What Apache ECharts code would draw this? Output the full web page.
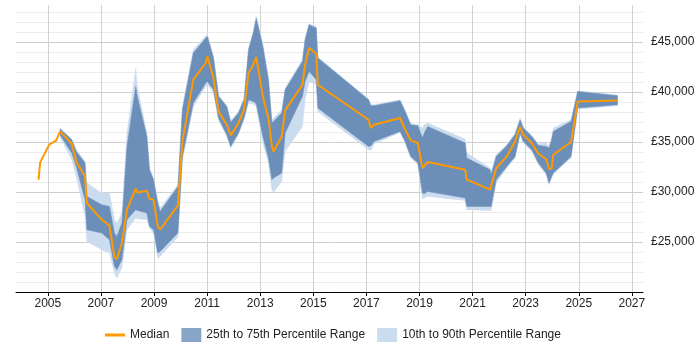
<!DOCTYPE html>
<html>
<head>
<meta charset="utf-8">
<title>Salary trend</title>
<script src="https://cdn.jsdelivr.net/npm/echarts@6/dist/echarts.min.js"></script>
<style>
  html, body { margin: 0; padding: 0; background: #fff; }
  #chart { width: 700px; height: 350px; }
</style>
</head>
<body>
<div id="chart"></div>
<script>
// sample dates (decimal years) and percentile values
var years = [2004.65, 2004.71, 2005.05, 2005.31, 2005.46, 2005.90, 2006.07, 2006.40, 2006.47, 2007.03,
  2007.32, 2007.51, 2007.60, 2007.79, 2007.98, 2008.31, 2008.37, 2008.73, 2008.83, 2008.98,
  2009.14, 2009.23, 2009.90, 2010.07, 2010.48, 2010.95, 2011.01, 2011.24, 2011.43, 2011.74,
  2011.89, 2012.18, 2012.39, 2012.56, 2012.74, 2012.85, 2013.10, 2013.31, 2013.44, 2013.50,
  2013.81, 2013.94, 2014.59, 2014.69, 2014.84, 2015.11, 2015.17, 2017.08, 2017.17, 2017.29,
  2018.27, 2018.43, 2018.67, 2018.94, 2019.11, 2019.18, 2019.31, 2020.72, 2020.78, 2021.66,
  2021.70, 2021.89, 2022.29, 2022.60, 2022.79, 2022.91, 2023.23, 2023.48, 2023.77, 2023.88,
  2023.98, 2024.04, 2024.71, 2024.96, 2026.46];

var median = [31230, 32960, 34730, 35130, 36060, 34830, 33060, 31560, 28900, 27230,
  26660, 23500, 23300, 24900, 28230, 30330, 29960, 30130, 29330, 29230,
  26560, 26230, 28660, 35060, 41230, 42900, 43560, 41400, 38060, 36730,
  35660, 36900, 38230, 41900, 42730, 43500, 39560, 37400, 34560, 34060,
  35560, 38160, 40730, 42730, 44400, 43830, 40730, 37230, 36400, 36730,
  37400, 36400, 35160, 34900, 32400, 32400, 33000, 32230, 31230, 30230,
  30160, 32400, 33560, 35060, 36500, 35730, 34900, 33830, 33300, 32330,
  32330, 33730, 35000, 39060, 39160];

var p10 = [null, null, null, null, 35500, 33230, 31560, 27560, 25060, 24230,
  23900, 21900, 21400, 22400, 26230, 27400, 27330, 27230, 26400, 25900,
  23400, 23560, 25500, 33230, 38560, 40560, 40730, 39900, 37160, 35560,
  34400, 35730, 37230, 38900, 38800, 38560, 34900, 32900, 30230, 29960,
  31060, 34060, 36560, 39230, 41060, 40730, 38060, 34230, 34160, 34800,
  35960, 35100, 33400, 32730, 29300, 29400, 29560, 29160, 28230, 28160,
  28160, 30900, 32400, 33400, 35730, 34900, 34060, 32730, 31730, 30730,
  31400, 31800, 33400, 38300, 38630];

var p25 = [null, null, null, null, 35700, 33900, 32560, 29230, 26230, 25900,
  25230, 22560, 22230, 23230, 27230, 28230, 28160, 27900, 26560, 26230,
  23900, 24060, 25900, 33560, 38900, 40900, 41060, 40230, 37400, 35730,
  34560, 35900, 37400, 39230, 39060, 38830, 35560, 33400, 31230, 31400,
  31900, 35900, 39560, 41060, 42060, 41230, 38400, 34560, 34630, 35060,
  36060, 35230, 33560, 32900, 29900, 29830, 30060, 29400, 28560, 28560,
  28560, 31230, 32560, 33560, 35900, 35060, 34230, 32900, 31900, 30900,
  31560, 31900, 33560, 38400, 38730];

var p75 = [null, null, null, null, 36300, 35230, 34060, 32900, 29560, 28730,
  28560, 25900, 25560, 26900, 34560, 40560, 39560, 35560, 32230, 31230,
  28900, 28060, 30560, 38230, 43900, 45400, 45560, 43400, 39560, 38560,
  36960, 37900, 39230, 44230, 45900, 47400, 44560, 41230, 36900, 37060,
  37900, 40230, 43060, 45230, 46730, 46400, 43400, 39230, 38630, 38630,
  39130, 38230, 36730, 36630, 35400, 35900, 36560, 34900, 33400, 32230,
  31730, 33560, 34630, 35730, 37230, 36400, 35560, 34660, 34560, 34400,
  35230, 36060, 37060, 40060, 39630];

var p90 = [null, null, null, null, 36400, 35300, 34230, 33100, 30900, 29900,
  29900, 27230, 26900, 27900, 35900, 42400, 40560, 35900, 32400, 31400,
  29230, 28400, 30730, 38560, 44230, 45630, 45730, 43560, 39730, 38630,
  37160, 38060, 39400, 44400, 46060, 47560, 44730, 41400, 37230, 37400,
  38160, 40400, 43230, 45400, 46830, 46500, 43500, 39300, 38730, 38730,
  39230, 38330, 36830, 36730, 36400, 36730, 36900, 35300, 33900, 32400,
  32060, 33730, 34730, 35900, 37400, 36500, 35660, 34830, 34900, 34560,
  35560, 36400, 37230, 40100, 39700];

var xTicks = [2005, 2007, 2009, 2011, 2013, 2015, 2017, 2019, 2021, 2023, 2025, 2027];

var DARK = '#6c8fb9';
var LIGHT = '#cbdcee';
var ORANGE = '#ff9900';

function pairs(arr) {
  var out = [];
  for (var i = 0; i < years.length; i++) {
    if (arr[i] != null) out.push([years[i], arr[i]]);
  }
  return out;
}
// rows of [year, low, high] where the band exists
function bandRows(lo, hi) {
  var out = [];
  for (var i = 0; i < years.length; i++) {
    if (lo[i] != null && hi[i] != null) out.push([years[i], lo[i], hi[i]]);
  }
  return out;
}

// one polygon per band, built from all rows through the axes
function band(name, rows, color, z) {
  return {
    name: name,
    type: 'custom',
    data: rows,
    encode: { x: 0, y: [1, 2] },
    itemStyle: { color: color },
    silent: true,
    z: z,
    renderItem: function (params, api) {
      if (params.dataIndex !== 0) return null;
      var pts = [];
      var i;
      for (i = 0; i < rows.length; i++) pts.push(api.coord([rows[i][0], rows[i][1]]));
      for (i = rows.length - 1; i >= 0; i--) pts.push(api.coord([rows[i][0], rows[i][2]]));
      return {
        type: 'polygon',
        shape: { points: pts },
        style: { fill: color, stroke: color, lineWidth: 0.5 }
      };
    }
  };
}

var chart = echarts.init(document.getElementById('chart'));
chart.setOption({
  animation: false,
  textStyle: { fontFamily: 'Liberation Sans, Arial, sans-serif' },
  grid: { left: 16, right: 57, top: 5, bottom: 58, outerBoundsMode: 'none' },
  legend: {
    bottom: 3,
    left: 100,
    itemWidth: 20,
    itemHeight: 14,
    itemGap: 12,
    textStyle: { color: '#222', fontSize: 12 },
    data: [
      { name: 'Median', icon: 'path://M0,0H20V3H0Z' },
      { name: '25th to 75th Percentile Range', icon: 'rect', itemStyle: { color: '#88a5c8' } },
      { name: '10th to 90th Percentile Range', icon: 'rect', itemStyle: { color: LIGHT } }
    ]
  },
  xAxis: {
    type: 'value',
    min: 2003.8,
    max: 2027.42,
    axisLine: { lineStyle: { color: '#000', width: 1 } },
    axisTick: { show: true, customValues: xTicks, length: 4, lineStyle: { color: '#000' } },
    axisLabel: {
      customValues: xTicks, color: '#222', fontSize: 12, margin: 6,
      formatter: function (v) { return String(v); }
    },
    splitLine: { show: true, lineStyle: { color: '#d2d2d2' } }
  },
  yAxis: {
    type: 'value',
    position: 'right',
    min: 20000,
    max: 48700,
    interval: 1000,
    axisLine: { show: false },
    axisTick: { show: false },
    axisLabel: {
      color: '#222',
      fontSize: 12,
      margin: 8,
      formatter: function (v) {
        if (v % 5000 !== 0 || v <= 20000) return '';
        return '£' + v.toLocaleString('en-GB');
      }
    },
    splitLine: {
      show: true,
      showMaxLine: false,
      lineStyle: { color: ['#cfcfcf', '#ebebeb', '#ebebeb', '#ebebeb', '#ebebeb'] }
    }
  },
  series: [
    band('10th to 90th Percentile Range', bandRows(p10, p90), LIGHT, 2),
    band('25th to 75th Percentile Range', bandRows(p25, p75), DARK, 3),
    {
      name: 'Median',
      type: 'line',
      data: pairs(median),
      symbol: 'none',
      itemStyle: { color: ORANGE },
      lineStyle: { color: ORANGE, width: 2 },
      z: 5
    }
  ]
});
</script>
</body>
</html>
